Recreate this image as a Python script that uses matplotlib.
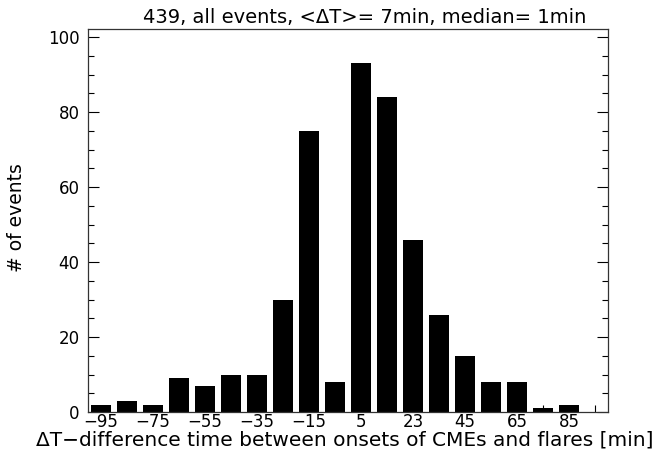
import matplotlib
matplotlib.use('Agg')
import matplotlib.pyplot as plt
import numpy as np

# histogram of onset time differences, 10 min bins
bin_centers = [-95, -85, -75, -65, -55, -45, -35, -25, -15, -5,
               5, 15, 25, 35, 45, 55, 65, 75, 85, 95]
counts = [2, 3, 2, 9, 7, 10, 10, 30, 75, 8,
          93, 84, 46, 26, 15, 8, 8, 1, 2, 0]
tick_names = ['\u221295', '', '\u221275', '', '\u221255', '', '\u221235', '', '\u221215', '',
              '5', '', '23', '', '45', '', '65', '', '85', '']

n_events = sum(counts)
title = f"{n_events}, all events, <\u0394T>= 7min, median= 1min"

plt.rcParams['font.family'] = ['DejaVu Sans']

fig = plt.figure(figsize=(6.62, 4.55), dpi=100)
ax = fig.add_axes([88/662, 43/455, 520/662, 383.5/455])

ax.bar(bin_centers, counts, width=8, color='black', zorder=2)
ax.set_axisbelow(True)

ax.set_xlim(-100, 100)
ax.set_ylim(0, max(counts) * 1.1)

ax.set_xticks(bin_centers)
ax.set_xticklabels(tick_names)
ax.set_yticks([0, 20, 40, 60, 80, 100])
ax.set_yticks(np.arange(0, 101, 5), minor=True)

ax.tick_params(axis='x', direction='in', length=5, width=0.8, pad=1,
               labelsize=12, top=False)
ax.tick_params(axis='y', which='major', direction='in', length=8, width=0.8,
               pad=6, labelsize=12, right=True)
ax.tick_params(axis='y', which='minor', direction='in', length=4, width=0.8,
               right=True)
for s in ax.spines.values():
    s.set_linewidth(0.9)
    s.set_color('#333333')

fig.text(365/662, 1 - 23/455, title, ha='center', va='baseline', fontsize=14)
fig.text(345/662, 1 - 445/455,
         '\u0394T\u2212difference time between onsets of CMEs and flares [min]',
         ha='center', va='baseline', fontsize=14.5)
fig.text(17/662, 1 - 218/455, '# of events', ha='center', va='center',
         rotation=90, fontsize=13.5)

fig.savefig('out.png', dpi=100)
